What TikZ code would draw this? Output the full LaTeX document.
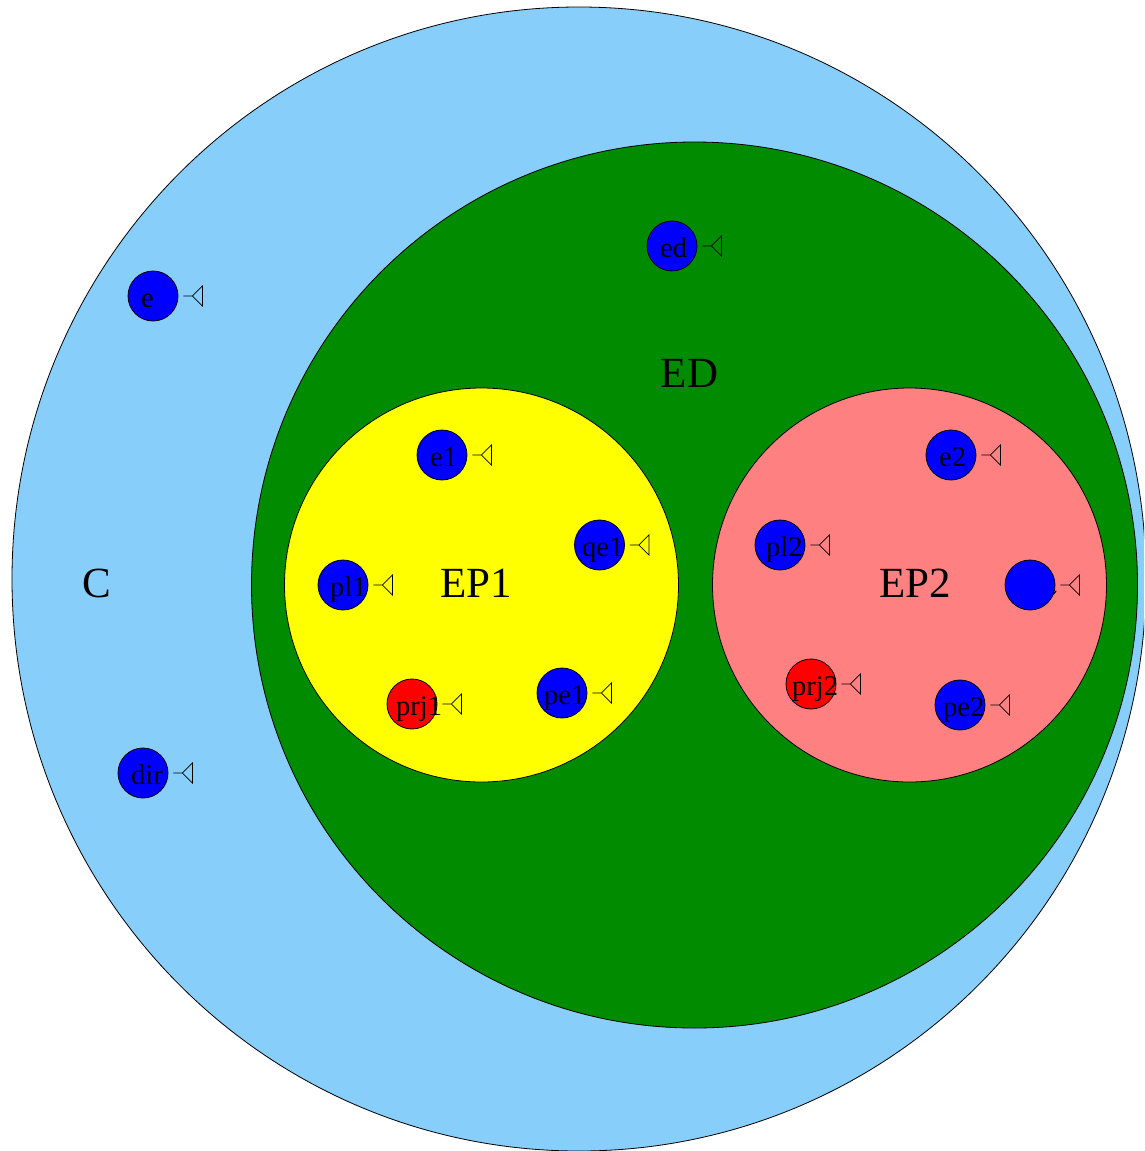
\documentclass[tikz,border=0pt]{standalone}
\usepackage{fontspec}
\setmainfont{Liberation Serif}
\definecolor{skyfill}{HTML}{87CEFA}
\definecolor{greenfill}{HTML}{008B00}
\definecolor{yellowfill}{HTML}{FFFF00}
\definecolor{pinkfill}{HTML}{FF8080}
\definecolor{bluefill}{HTML}{0000FF}
\definecolor{redfill}{HTML}{FF0000}
\tikzset{
  region/.style={draw=black, line width=0.8pt},
  bigtxt/.style={anchor=base, inner sep=0pt, font=\fontsize{43}{50}\selectfont},
  smalltxt/.style={anchor=base west, inner sep=0pt, font=\fontsize{28.5}{34}\selectfont},
  ball/.style={circle, draw=black, line width=0.8pt, minimum size=50pt, inner sep=0pt, fill=bluefill},
  redball/.style={ball, fill=redfill},
  portline/.style={draw=black, line width=0.8pt, line join=miter},
}
% a small port mark: a stub followed by a left-pointing triangle
\newcommand\portmark[1]{\draw[portline] ([xshift=5pt]#1.east) -- ++(9,0) -- ++(10,10) -- ++(0,-20) -- ++(-10,10);}
\begin{document}
\begin{tikzpicture}[x=1pt, y=-1pt]
\useasboundingbox (0,0) rectangle (1144,1151);
\begin{scope}
\clip (0,0) rectangle (1144,1151);
% nested clusters
\draw[region, fill=skyfill] (579,579) ellipse [x radius=567, y radius=572];
\draw[region, fill=greenfill] (694.5,585) circle [radius=443];
\draw[region, fill=yellowfill] (481.5,585) circle [radius=197];
\draw[region, fill=pinkfill] (909.5,585) circle [radius=197];
\end{scope}
% cluster titles
\node[bigtxt] (tC) at (97,597) {C};
\node[bigtxt] (tED) at (689.5,387) {ED};
\node[bigtxt] (tEP1) at (476.5,597) {EP1};
\node[bigtxt] (tEP2) at (915.5,597) {EP2};
% nodes of C
\node[ball] (e) at (153,296) {};
\node[smalltxt] (e-t) at (141,307.5) {e};
\portmark{e}
\node[ball] (dir) at (143,773) {};
\node[smalltxt] (dir-t) at (131,784.5) {dir};
\portmark{dir}
% node of ED
\node[ball] (ed) at (672,246) {};
\node[smalltxt] (ed-t) at (660,257.5) {ed};
\portmark{ed}
% nodes of EP1
\node[ball] (e1) at (442,455) {};
\node[smalltxt] (e1-t) at (430,466.5) {e1};
\portmark{e1}
\node[ball] (qe1) at (599.5,545) {};
\node[smalltxt] (qe1-t) at (582,556.5) {qe1};
\portmark{qe1}
\node[ball] (pl1) at (343,585) {};
\node[smalltxt] (pl1-t) at (330,596.5) {pl1};
\portmark{pl1}
\node[redball] (prj1) at (412,704) {};
\node[smalltxt] (prj1-t) at (396,715.5) {prj1};
\portmark{prj1}
\node[ball] (pe1) at (562,693) {};
\node[smalltxt] (pe1-t) at (544,704.5) {pe1};
\portmark{pe1}
% nodes of EP2
\node[ball] (e2) at (951,455) {};
\node[smalltxt] (e2-t) at (939,466.5) {e2};
\portmark{e2}
\node[ball] (pl2) at (780,545) {};
\node[smalltxt] (pl2-t) at (766,556.5) {pl2};
\portmark{pl2}
\node[ball] (qe2) at (1030,585) {};
\draw[line width=1.2pt, line cap=round] (1053.5,594) -- (1056,591);
\portmark{qe2}
\node[redball] (prj2) at (811,684) {};
\node[smalltxt] (prj2-t) at (792,695.5) {prj2};
\portmark{prj2}
\node[ball] (pe2) at (960,705) {};
\node[smalltxt] (pe2-t) at (943,716.5) {pe2};
\portmark{pe2}
\end{tikzpicture}
\end{document}
